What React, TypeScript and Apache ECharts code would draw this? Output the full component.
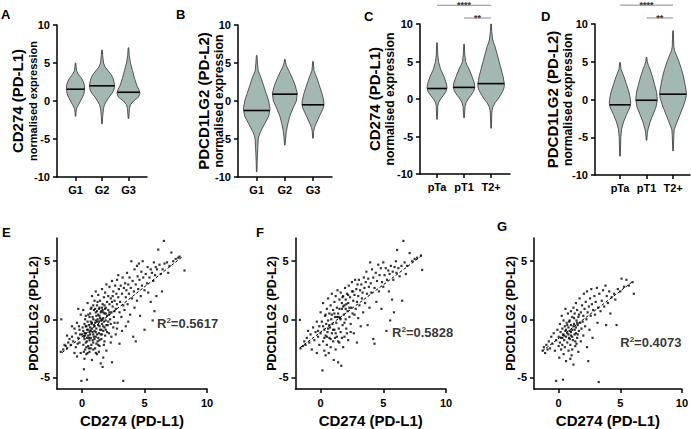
import React, { useEffect, useRef } from "react";
import * as echarts from "echarts";

const FONT = "'Liberation Sans', Arial, sans-serif";
const FILL = "#a3b8b3";

const gradeCats = ["G1", "G2", "G3"];
const stageCats = ["pTa", "pT1", "T2+"];

// Violin outlines: [expression value, half-width density (px-like)], top to bottom
const violinA_G1 = [[5, 0.3], [4, 1], [3.5, 3], [3, 6], [2.5, 8], [2, 9], [1.5, 9], [1, 8.5], [0.5, 7], [0, 5], [-0.5, 3], [-1, 1], [-1.5, 0.5], [-2, 0.3]];
const violinA_G2 = [[6.7, 0.3], [6, 0.7], [5, 1.5], [4.5, 3], [4, 6], [3.5, 9], [3, 11], [2.5, 12], [2, 12.5], [1.5, 12], [1, 10], [0.5, 7], [0, 4.5], [-0.5, 2.5], [-1, 1.5], [-2, 0.7], [-3, 0.3]];
const violinA_G3 = [[7, 0.3], [6, 0.8], [5, 2], [4, 4], [3, 6], [2, 8.5], [1.5, 10.5], [1, 11.5], [0.5, 10], [0, 5], [-0.5, 2], [-1, 1], [-2.3, 0.3]];
const violinB_G1 = [[6, 0.3], [5, 0.8], [4, 1.5], [3.5, 3], [3, 4.5], [2, 7], [1, 9.5], [0, 12], [-1, 13.3], [-2, 12], [-3, 8], [-4, 4], [-4.5, 2.5], [-5, 1.5], [-6, 1.2], [-7, 0.8], [-8, 0.5], [-9.3, 0.3]];
const violinB_G2 = [[5.5, 0.3], [5, 0.8], [4.5, 2], [4, 4], [3, 7.5], [2, 10.5], [1, 12.5], [0, 11.5], [-1, 8], [-2, 5], [-3, 3], [-4, 1.5], [-5, 0.7], [-5.8, 0.3]];
const violinB_G3 = [[5.2, 0.3], [4, 1], [3.5, 2.5], [3, 4], [2, 6.5], [1, 9], [0, 10.8], [-0.5, 11], [-1, 10], [-2, 6.5], [-3, 3], [-3.5, 1.5], [-4, 0.7], [-4.9, 0.3]];
const violinC_pTa = [[7.5, 0.3], [6, 0.7], [5, 1.5], [4, 3.5], [3, 7], [2, 9.5], [1.5, 10], [1, 9], [0.5, 6.5], [0, 3.5], [-0.5, 1.5], [-1, 0.8], [-2.7, 0.3]];
const violinC_pT1 = [[7.3, 0.3], [6, 0.7], [5, 1.5], [4.5, 3], [4, 5], [3, 8], [2, 10.5], [1.5, 10.7], [1, 9.5], [0.5, 7], [0, 4], [-0.5, 2], [-1, 1], [-2.5, 0.3]];
const violinC_T2 = [[10, 0.3], [9, 0.7], [8, 1.5], [7.5, 2.5], [7, 4], [6, 6], [5, 8], [4, 10], [3, 12], [2, 13.3], [1.5, 13], [1, 11.5], [0, 7], [-0.5, 4], [-1, 2], [-1.5, 1], [-2, 0.7], [-3.9, 0.3]];
const violinD_pTa = [[4.9, 0.3], [4, 1], [3.5, 2.5], [3, 4], [2, 6.5], [1, 9], [0, 10.5], [-0.5, 10.7], [-1, 10], [-2, 6.5], [-3, 3.5], [-4, 1.5], [-5, 0.8], [-7.5, 0.3]];
const violinD_pT1 = [[5.6, 0.3], [5, 0.8], [4.5, 2], [4, 3.5], [3, 6], [2, 8], [1, 10], [0, 10.8], [-1, 9.5], [-2, 6.5], [-3, 3.5], [-4, 1.5], [-4.5, 0.8], [-5.4, 0.3]];
const violinD_T2 = [[9.1, 0.3], [7, 0.8], [6.5, 1.5], [6, 3], [5, 6], [4, 8.5], [3, 10.5], [2, 12], [1, 13.3], [0.5, 13.3], [0, 12.5], [-1, 10], [-2, 7], [-3, 4], [-3.5, 2.5], [-4, 1.2], [-5, 0.7], [-6.8, 0.3]];

const medianA = [1.55, 2.0, 1.15];
const medianB = [-1.25, 0.9, -0.5];
const medianC = [1.4, 1.55, 2.05];
const medianD = [-0.7, -0.1, 0.7];

// significance brackets: [from category, to category, level, stars]
const sigBrackets = [[1, 3, 12.5, "****"], [2, 3, 10.8, "**"]];

// scatter data: [CD274, PDCD1LG2]
const scatterE = [
  [-1.7, -2.8], [-1.5, -2.6], [-1.3, -2.3], [-1.2, -2.5], [-1.1, -2.0], [-1.65, 0.0], [-1.0, -1.7], [-1.4, -2.2], [-1.2, -1.4],
  [-0.9, -2.2], [-0.8, -1.5], [-0.7, -1.9], [-0.6, -0.8], [-0.5, -2.4], [-0.5, -1.2], [-0.4, -0.3], [-0.3, -1.6], [-0.2, -2.0], [-0.2, -0.9], [-0.1, -2.9], [-0.1, 0.4], [0.0, -1.3], [-0.6, -2.9], [-0.3, 0.9], [-0.8, -0.6], [-0.4, -3.2], [-0.05, -5.3],
  [0.1, -1.0], [0.1, -2.2], [0.15, -4.3], [0.2, -0.4], [0.2, -1.7], [0.25, -2.6], [0.3, -1.2], [0.3, 0.3], [0.35, -3.0], [0.4, -0.9], [0.4, -1.9], [0.4, -5.2], [0.45, 1.4], [0.45, -0.2], [0.5, -1.4], [0.5, -2.3], [0.1, 0.8], [0.2, -3.4], [0.35, -0.6], [0.3, -2.0], [0.15, -1.5], [0.25, 0.0],
  [0.55, -0.5], [0.6, -1.1], [0.6, -2.8], [0.65, 0.5], [0.7, -1.6], [0.7, -0.2], [0.75, -2.2], [0.75, 1.0], [0.8, -0.8], [0.8, -3.5], [0.85, 0.2], [0.9, -1.3], [0.9, -2.0], [0.95, 0.8], [0.95, -0.5], [1.0, -1.0], [1.0, 1.6], [0.6, 0.2], [0.7, -1.0], [0.85, -1.8], [0.55, -2.5], [0.9, 0.0], [0.65, -0.7], [0.8, 2.0],
  [1.05, -0.3], [1.05, -2.5], [1.1, 0.6], [1.1, -1.5], [1.15, -0.8], [1.2, 1.2], [1.2, -3.0], [1.25, 0.0], [1.25, -1.9], [1.3, 2.1], [1.3, -0.5], [1.35, 0.9], [1.35, -1.2], [1.4, -2.3], [1.4, 0.3], [1.45, 1.6], [1.45, -0.9], [1.5, -3.8], [1.5, -0.1], [1.1, 2.4], [1.2, -0.2], [1.3, -1.6], [1.4, -0.6], [1.15, 0.3], [1.35, -2.8],
  [1.55, 0.7], [1.55, -1.7], [1.6, 2.6], [1.6, -0.4], [1.65, 1.3], [1.65, -4.1], [1.7, 0.1], [1.7, -1.0], [1.75, 1.9], [1.75, -2.2], [1.8, 0.5], [1.8, -0.7], [1.85, 2.3], [1.85, -1.4], [1.9, 1.0], [1.9, -0.1], [1.95, 3.0], [1.95, -2.7], [2.0, 0.3], [2.0, 1.5], [1.6, 0.0], [1.7, -3.3], [1.8, 1.2], [1.9, -0.9],
  [0.2, -1.2], [0.3, -0.6], [0.4, -1.6], [0.5, -0.9], [0.6, -1.8], [0.7, -2.5], [0.8, -0.3], [0.9, -2.6], [1.0, -1.7], [1.1, -1.1], [1.2, -1.3], [1.3, 0.4], [1.4, -1.8], [1.5, 0.6], [1.6, -1.3], [1.7, 0.6], [1.8, -1.9], [1.9, 0.5], [2.0, -1.1], [0.45, -2.9],
  [0.55, -1.6], [0.65, -1.3], [0.75, -0.4], [0.85, -1.1], [0.95, -1.5], [1.05, 0.9], [1.15, -2.1], [1.25, 1.5], [1.35, -0.2], [1.45, 0.1], [1.55, -0.9], [1.65, 0.8], [1.75, -0.2], [1.85, 0.9], [1.95, -0.5], [0.05, -0.7], [0.15, -2.8], [0.25, -1.4], [0.35, -2.4], [-0.15, -1.3],
  [-0.25, -0.6], [-0.35, -2.1], [1.0, -0.6], [1.1, -0.1], [1.2, 0.7], [1.3, -2.2], [1.4, 1.0], [1.5, -1.3], [1.6, 1.0], [1.7, -0.6], [2.1, -0.2], [2.2, 0.6], [2.3, -0.4], [2.4, 1.5], [2.6, 0.7], [2.8, -0.8], [0.7, 0.9], [0.9, 1.2], [1.1, -2.9], [0.5, 0.4],
  [2.05, -0.5], [2.1, 2.0], [2.1, 0.8], [2.15, -1.2], [2.2, 1.3], [2.2, 2.8], [2.25, 0.0], [2.3, 1.8], [2.3, -2.0], [2.35, 0.6], [2.4, 3.3], [2.4, -3.7], [2.45, 1.1], [2.5, 2.4], [2.5, -0.7], [2.15, 0.4], [2.35, -1.5], [2.45, 2.0],
  [2.55, 0.2], [2.6, 1.6], [2.65, 2.9], [2.7, 0.9], [2.7, -1.3], [2.75, 2.2], [2.8, 1.3], [2.8, 3.4], [2.85, -0.3], [2.9, 1.9], [2.95, 2.6], [3.0, 0.6], [3.0, -2.1], [2.6, -0.3], [2.9, 3.8],
  [3.05, 1.5], [3.1, 2.9], [3.15, 0.2], [3.2, 2.2], [3.25, 3.6], [3.3, 1.2], [3.3, -5.3], [3.35, 2.7], [3.4, 0.8], [3.45, 3.1], [3.5, 1.9], [3.5, -0.6], [3.2, -1.0],
  [3.55, 2.5], [3.6, 4.0], [3.65, 1.3], [3.7, 3.0], [3.75, 2.2], [3.8, 3.6], [3.85, 0.4], [3.9, 2.7], [3.95, 5.0], [4.0, 1.8], [3.7, -0.2],
  [4.05, 3.3], [4.1, -1.5], [4.15, 2.4], [4.2, 4.3], [4.3, -1.9], [4.3, 3.0], [4.4, 1.6], [4.45, 3.7], [4.5, 2.6], [4.55, 4.8], [4.6, 3.4], [4.7, 2.0], [4.75, 4.1], [4.8, 2.9], [4.85, 5.0], [4.9, 3.6], [5.0, -0.9], [5.0, 2.5], [4.2, 1.0], [4.4, 4.6], [4.65, 0.3],
  [5.1, 3.9], [5.2, 3.1], [5.25, 4.5], [5.3, 2.3], [5.4, 3.6], [5.5, 4.3], [5.6, 4.0], [5.7, 3.3], [5.75, 4.9], [5.8, 0.7], [5.85, 3.8], [5.9, 4.5], [5.95, 2.0], [6.0, 4.3], [6.1, 6.0], [5.5, 1.5], [5.65, -0.1],
  [6.2, 4.7], [6.3, 3.9], [6.45, 4.3], [6.55, 6.75], [6.6, 4.8], [6.8, 4.9], [7.0, 4.6], [7.15, 5.75], [7.3, 5.0], [7.5, 5.2], [7.7, 5.3], [7.8, 5.4], [8.2, 4.2], [6.4, 2.4], [6.9, 4.0]
];
const scatterF = [
  [-1.65, -0.05], [-1.6, -2.5], [-1.4, -2.3], [-1.3, -1.9], [-1.2, -2.2], [-1.1, -1.6], [-1.0, -1.0], [-0.9, -2.0], [-0.8, -1.3], [-0.7, -2.6], [-0.6, -0.7], [-0.5, -1.8], [-0.4, -1.1], [-0.3, -2.9], [-0.3, -0.2], [-0.2, -1.5], [-0.1, -0.6], [-0.1, -2.2], [0.0, 0.6], [0.0, -1.2],
  [0.1, -0.2], [0.15, -4.4], [0.2, -1.9], [0.2, 1.4], [0.3, -0.9], [0.3, -2.7], [0.35, 0.3], [0.4, -1.4], [0.4, -3.1], [0.45, -0.4], [0.5, 0.9], [0.5, -2.2], [0.55, -1.1], [0.6, 1.8], [0.6, -0.1], [0.65, -2.9], [0.7, -1.6], [0.7, 0.5], [0.75, -0.7], [0.8, 1.2], [0.8, -2.4], [0.85, 0.0], [0.9, -1.2], [0.9, 2.2], [0.95, -0.4], [1.0, 0.8], [1.0, -1.9],
  [1.05, -3.5], [1.1, 1.5], [1.1, -0.9], [1.15, 0.2], [1.2, -2.6], [1.2, 2.0], [1.25, -0.3], [1.3, 1.0], [1.3, -1.5], [1.35, 2.5], [1.4, 0.5], [1.4, -3.7], [1.45, -0.8], [1.5, 1.7], [1.5, -2.0], [1.55, 0.1], [1.6, 2.3], [1.6, -1.1], [1.65, -4.0], [1.7, 0.9], [1.7, 1.4], [1.75, -0.5], [1.8, 2.0], [1.8, -2.4], [1.85, 0.4], [1.9, 1.2], [1.9, -1.5], [1.95, 2.7], [2.0, 0.0], [2.0, 1.7],
  [0.3, -1.6], [0.5, -1.5], [0.6, -0.8], [0.8, -1.7], [0.9, 0.4], [1.0, -0.9], [1.2, -1.2], [1.3, 0.2], [1.4, -1.9], [1.5, 0.9], [1.6, 0.0], [1.7, -1.6], [1.8, 1.1], [1.9, -0.3], [2.0, 0.9], [2.1, -1.2], [2.2, 2.1], [2.3, 1.0], [2.4, -1.1], [2.6, 2.4],
  [0.4, 0.4], [0.7, -0.5], [1.1, 0.5], [1.15, -1.6], [1.45, 0.2], [1.75, 1.9], [2.05, 1.3], [2.7, 0.4], [0.2, -0.6], [-0.2, -1.0],
  [2.05, -0.8], [2.1, 2.2], [2.15, 0.7], [2.2, 1.4], [2.2, -1.8], [2.25, 2.9], [2.3, 0.2], [2.35, 1.9], [2.4, -0.4], [2.45, 1.0], [2.5, 2.4], [2.5, 3.2], [2.55, 0.5], [2.6, 1.6], [2.65, -1.2], [2.7, 2.1], [2.75, 3.4], [2.8, 0.9], [2.85, 2.6], [2.9, -2.0], [2.9, 1.5], [2.95, 3.0], [3.0, 2.0], [3.0, 0.1],
  [3.05, 3.4], [3.1, 1.2], [3.15, 2.5], [3.2, -0.6], [3.25, 3.0], [3.3, 1.8], [3.35, 2.3], [3.4, 0.6], [3.45, 3.6], [3.5, 2.7], [3.55, 1.4], [3.6, 3.2], [3.65, 4.1], [3.7, 2.2], [3.75, -0.5], [3.8, 3.5], [3.85, 2.8], [3.9, 1.0], [3.95, 4.9], [4.0, 3.1],
  [4.05, 2.3], [4.1, 4.3], [4.2, -1.7], [4.2, 3.6], [4.3, -2.1], [4.3, 2.7], [4.4, 4.0], [4.45, 1.5], [4.5, 3.3], [4.6, 4.7], [4.65, 2.4], [4.7, 3.8], [4.8, 4.4], [4.85, 0.9], [4.9, 3.2], [5.0, 4.9], [5.0, 2.8],
  [5.1, 3.8], [5.2, 4.4], [5.25, -1.0], [5.3, 3.4], [5.4, 4.2], [5.45, 2.4], [5.5, 3.9], [5.6, 4.6], [5.7, 1.7], [5.75, 4.1], [5.8, 3.4], [5.85, 0.6], [5.9, 4.5], [6.0, 5.0], [6.05, 4.0], [6.1, 5.97],
  [6.2, 4.4], [6.3, 3.7], [6.45, 4.6], [6.5, 1.6], [6.6, 6.75], [6.7, 4.9], [6.9, 4.6], [7.1, 5.7], [7.3, 5.0], [7.5, 5.2], [7.7, 5.3], [8.0, 5.5], [8.1, 4.25], [6.8, 3.9], [5.55, -0.1]
];
const scatterG = [
  [-1.3, -2.7], [-1.2, -2.4], [-1.1, -2.9], [-1.0, -2.2], [-0.9, -2.6], [-0.8, -1.9], [-0.7, -2.5], [-0.6, -1.5], [-0.5, -2.1], [-0.4, -1.2], [-0.3, -2.7], [-0.2, -1.8], [-0.2, -5.3], [-0.1, -0.9], [0.0, -2.3], [0.0, -1.5], [0.05, -3.3], [0.1, -0.4], [0.1, -2.0], [0.15, -1.1], [0.2, -2.6], [0.2, -1.6], [0.25, 0.3], [0.3, -0.8], [0.3, -2.2], [0.35, -5.2], [0.35, -1.3], [0.4, -3.0], [0.4, -0.1], [0.45, -1.8], [0.5, -0.6], [0.5, -2.4], [0.55, -1.0], [0.55, 0.9], [0.6, -1.5], [0.6, -3.6], [0.65, -0.3], [0.7, -2.0], [0.7, -1.2], [0.75, 0.5], [0.8, -0.7], [0.8, -2.7], [0.85, -1.6], [0.9, -0.1], [0.9, -1.0], [0.95, -2.2], [1.0, 0.7], [1.0, -1.4], [1.0, -0.5],
  [1.05, -3.1], [1.1, -0.9], [1.1, 0.2], [1.15, -1.8], [1.2, 1.0], [1.2, -3.9], [1.25, -0.4], [1.3, -1.3], [1.3, 0.5], [1.35, -2.3], [1.4, -0.7], [1.4, 1.4], [1.45, -0.1], [1.5, -1.6], [1.5, 0.8], [1.55, -0.5], [1.6, -2.8], [1.6, 0.2], [1.65, -1.0], [1.7, 1.8], [1.75, -0.3], [1.8, 0.6], [1.8, -1.9], [1.85, -0.8], [1.9, 1.2], [1.95, -0.2], [2.0, 0.3], [2.0, -1.4],
  [0.6, -0.9], [0.7, -0.5], [0.8, -1.3], [0.9, -1.7], [1.0, -1.1], [1.1, -1.5], [1.2, -0.6], [1.3, -0.9], [1.4, -1.2], [1.5, -0.3], [1.1, -2.6], [0.85, -0.2], [1.25, 0.1], [1.35, -1.9], [0.45, -1.4], [1.55, -1.3], [1.65, 0.4], [1.45, -2.1], [0.95, -3.4], [0.3, -1.6],
  [2.05, 2.2], [2.1, 0.9], [2.15, -0.6], [2.2, 1.5], [2.25, 0.0], [2.3, -2.4], [2.3, 2.4], [2.35, 0.6], [2.4, -3.6], [2.45, 1.1], [2.5, -0.9], [2.55, 1.8], [2.6, 0.3], [2.65, 2.6], [2.7, 1.3], [2.75, -1.6], [2.8, 0.8], [2.9, 2.0], [2.95, 0.4], [3.0, 1.5], [3.1, 2.7], [3.15, -0.3], [3.2, 1.0], [3.25, -5.4], [3.3, 2.2], [3.4, 0.7], [3.5, 1.6], [3.6, 2.5], [3.7, 1.1], [3.8, 2.9], [3.85, -0.5], [3.9, 2.0], [4.0, 1.4], [4.1, 2.4], [4.2, 0.5], [4.3, 1.9], [4.5, 2.2], [4.7, -0.5], [4.6, 1.7], [4.8, 2.6], [5.0, 2.4], [5.1, 3.5], [5.3, 2.8], [5.5, 3.4], [5.7, 2.9], [6.0, 3.2], [6.1, 2.2]
];

// linear fit endpoints
const fitE = [[-1.6, -2.87], [8.04, 5.4]];
const fitF = [[-1.65, -2.45], [8.1, 5.5]];
const fitG = [[-1.33, -2.73], [6.06, 3.3]];
const r2Values = ["0.5617", "0.5828", "0.4073"];
const r2Anchors = [[6.0, -0.4], [5.7, -1.1], [5.0, -2.0]];

const scatterTicksX = [0, 5, 10];
const scatterTicksY = [-5, 0, 5];

const interp = (prof: number[][], v: number) => {
  for (let i = 0; i < prof.length - 1; i++) {
    const [v1, d1] = prof[i];
    const [v2, d2] = prof[i + 1];
    if (v <= v1 && v >= v2) return d1 + ((v1 - v) / (v1 - v2)) * (d2 - d1);
  }
  return 0;
};

export default function App() {
  const ref = useRef<HTMLDivElement>(null);
  useEffect(() => {
    document.body.style.margin = "0";
    const chart = echarts.init(ref.current!, null, { renderer: "svg" });

    const grids = [
      { left: 57, top: 25, width: 90, height: 152 },
      { left: 238, top: 25, width: 94, height: 152 },
      { left: 420, top: 24, width: 90, height: 150 },
      { left: 595, top: 24, width: 95, height: 151 },
      { left: 57, top: 238, width: 150, height: 152 },
      { left: 295.5, top: 238, width: 150.5, height: 152 },
      { left: 534, top: 238, width: 150, height: 152 }
    ];
    const vxRange = [[0.3, 3.7], [0.336, 3.676], [0.37, 3.7], [0.057, 3.64]];
    const violinNameGap = [17, 12, 23, 20];
    const subTitleSize = [11, 12.2, 12.2, 12.2];
    const axisLine = { onZero: false, lineStyle: { color: "#000", width: 1.5 } };
    const axisTick = { length: 4, lineStyle: { color: "#000", width: 1.5 } };
    const lbl = { color: "#000", fontFamily: FONT, fontWeight: "bold", fontSize: 11 };

    const xAxes: any[] = [];
    const yAxes: any[] = [];
    const violinCats = [gradeCats, gradeCats, stageCats, stageCats];
    const violinNames = ["CD274 (PD-L1)", "PDCD1LG2 (PD-L2)", "CD274 (PD-L1)", "PDCD1LG2 (PD-L2)"];
    for (let i = 0; i < 4; i++) {
      const cats = violinCats[i];
      xAxes.push({
        type: "value", gridIndex: i, min: vxRange[i][0], max: vxRange[i][1],
        axisLine, axisTick: { ...axisTick, customValues: [1, 2, 3] },
        splitLine: { show: false },
        axisLabel: { ...lbl, margin: 7, customValues: [1, 2, 3], formatter: (v: number) => cats[Math.round(v) - 1] }
      });
      yAxes.push({
        type: "value", gridIndex: i, min: -10, max: 10, interval: 5,
        axisLine: { show: true, ...axisLine }, axisTick: { show: true, ...axisTick },
        splitLine: { show: false },
        axisLabel: { ...lbl, margin: 7 },
        name: `{a|${violinNames[i]}}\n{b|normalised expression}`,
        nameLocation: "middle", nameGap: violinNameGap[i], nameMoveOverlap: false,
        nameTextStyle: {
          rich: {
            a: { fontFamily: FONT, fontWeight: "bold", fontSize: 15, color: "#000", lineHeight: 15 },
            b: { fontFamily: FONT, fontWeight: "bold", fontSize: subTitleSize[i], color: "#000", lineHeight: 15 }
          }
        }
      });
    }
    for (let i = 4; i < 7; i++) {
      xAxes.push({
        type: "value", gridIndex: i, min: -2, max: 10,
        axisLine, axisTick: { ...axisTick, customValues: scatterTicksX },
        splitLine: { show: false },
        axisLabel: { ...lbl, margin: 8, customValues: scatterTicksX },
        name: "CD274 (PD-L1)", nameLocation: "middle", nameGap: 24, nameMoveOverlap: false,
        nameTextStyle: { fontFamily: FONT, fontWeight: "bold", fontSize: 15, color: "#000" }
      });
      yAxes.push({
        type: "value", gridIndex: i, min: -6, max: 7,
        axisLine: { show: true, ...axisLine }, axisTick: { show: true, ...axisTick, customValues: scatterTicksY },
        splitLine: { show: false },
        axisLabel: { ...lbl, margin: 7, customValues: scatterTicksY },
        name: "PDCD1LG2 (PD-L2)", nameLocation: "middle", nameGap: 17, nameMoveOverlap: false,
        nameTextStyle: { fontFamily: FONT, fontWeight: "bold", fontSize: 12.5, color: "#000" }
      });
    }

    const makeViolin = (idx: number, profiles: number[][][], medians: number[]) => {
      const pxPerUnit = grids[idx].width / (vxRange[idx][1] - vxRange[idx][0]);
      const k = 1 / pxPerUnit;
      return {
        type: "custom", xAxisIndex: idx, yAxisIndex: idx, clip: false, silent: true,
        data: medians.map((m, i) => [i + 1, m]),
        renderItem: (params: any, api: any) => {
          const i = params.dataIndex;
          const cx = api.value(0);
          const med = api.value(1);
          const prof = profiles[i];
          const right = prof.map(([v, d]) => api.coord([cx + d * k, v]));
          const left = [...prof].reverse().map(([v, d]) => api.coord([cx - d * k, v]));
          const hw = interp(prof, med) * k;
          const p1 = api.coord([cx - hw, med]);
          const p2 = api.coord([cx + hw, med]);
          return {
            type: "group",
            children: [
              { type: "polygon", shape: { points: right.concat(left) }, style: { fill: FILL, stroke: "#333", lineWidth: 0.8 } },
              { type: "line", shape: { x1: p1[0], y1: p1[1], x2: p2[0], y2: p2[1] }, style: { stroke: "#000", lineWidth: 1.6 } }
            ]
          };
        }
      };
    };

    const makeSig = (idx: number) => ({
      type: "custom", xAxisIndex: idx, yAxisIndex: idx, clip: false, silent: true,
      data: sigBrackets,
      renderItem: (params: any, api: any) => {
        const a = api.coord([api.value(0), api.value(2)]);
        const b = api.coord([api.value(1), api.value(2)]);
        const stars = sigBrackets[params.dataIndex][3] as string;
        return {
          type: "group",
          children: [
            { type: "line", shape: { x1: a[0], y1: a[1], x2: b[0], y2: b[1] }, style: { stroke: "#8a8a8a", lineWidth: 1 } },
            { type: "text", x: (a[0] + b[0]) / 2, y: a[1] + 4.5, style: { text: stars, fill: "#333", font: `bold 9px ${FONT}`, align: "center", verticalAlign: "bottom" } }
          ]
        };
      }
    });

    const scatterSets = [scatterE, scatterF, scatterG];
    const fits = [fitE, fitF, fitG];
    const series: any[] = [
      makeViolin(0, [violinA_G1, violinA_G2, violinA_G3], medianA),
      makeViolin(1, [violinB_G1, violinB_G2, violinB_G3], medianB),
      makeViolin(2, [violinC_pTa, violinC_pT1, violinC_T2], medianC),
      makeViolin(3, [violinD_pTa, violinD_pT1, violinD_T2], medianD),
      makeSig(2),
      makeSig(3)
    ];
    for (let j = 0; j < 3; j++) {
      const gi = 4 + j;
      series.push({
        type: "scatter", xAxisIndex: gi, yAxisIndex: gi, data: scatterSets[j],
        symbol: "rect", symbolSize: 2.2, itemStyle: { color: "#000" }, silent: true
      });
      series.push({
        type: "line", xAxisIndex: gi, yAxisIndex: gi, data: fits[j], symbol: "none",
        lineStyle: { color: "#000", width: 1, type: [3, 2] }, silent: true
      });
      series.push({
        type: "scatter", xAxisIndex: gi, yAxisIndex: gi, data: [r2Anchors[j]], symbolSize: 0, silent: true,
        label: {
          show: true, position: "right", distance: 0,
          formatter: `R{s|2}=${r2Values[j]}`,
          fontFamily: FONT, fontWeight: "bold", fontSize: 13, color: "#000",
          rich: { s: { fontFamily: FONT, fontWeight: "bold", fontSize: 8, color: "#000", verticalAlign: "top", padding: [0, 0, 6, 0] } }
        }
      });
    }

    const letter = (t: string, x: number, y: number) => ({
      type: "text", left: x, top: y, style: { text: t, font: `bold 13px ${FONT}`, fill: "#000" }
    });

    chart.setOption({
      animation: false,
      backgroundColor: "#fff",
      grid: grids.map((g) => ({ ...g, containLabel: false })),
      xAxis: xAxes,
      yAxis: yAxes,
      series,
      graphic: [
        letter("A", 1, 8), letter("B", 176, 8), letter("C", 364, 10), letter("D", 541, 10),
        letter("E", 2, 226), letter("F", 256, 226), letter("G", 497, 220)
      ]
    });
    return () => chart.dispose();
  }, []);
  return <div ref={ref} style={{ width: 691, height: 429 }} />;
}
